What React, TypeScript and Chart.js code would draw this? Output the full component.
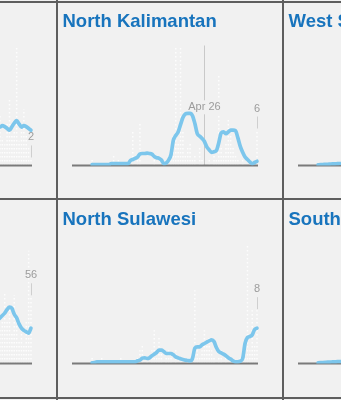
import React, { useEffect, useRef } from "react";
import { Chart, registerables } from "chart.js";

Chart.register(...registerables);

// ---------- data ----------
const MONTHS = ["Jan", "Feb", "Mar", "Apr", "May", "Jun", "Jul", "Aug", "Sep", "Oct", "Nov", "Dec"];
const START_YEAR = 2020;
const START_MONTH = 2; // March (0-based)
const START_DAY = 2;
const DAY_COUNT = 78;
const DATES: string[] = Array.from({ length: DAY_COUNT }, (_, i) => {
  const d = new Date(START_YEAR, START_MONTH, START_DAY + i);
  return `${MONTHS[d.getMonth()]} ${d.getDate()}`;
});
const NK_PEAK_DATE = "Apr 26";

const nulls = (n: number) => Array(n).fill(null);

// North Kalimantan
const NK_DAILY = [
  0, 0, 0, 0, 0, 0, 0, 0,
  1, 0, 0, 0, 0, 0, 0, 0,
  0, 2, 0, 1, 0, 0, 0, 0,
  0, 6, 0, 1, 7, 0, 0, 0,
  0, 0, 1, 0, 0, 0, 0, 0,
  2, 3, 5, 20, 4, 20, 6, 2,
  3, 4, 1, 2, 0, 3, 1, 20,
  0, 1, 0, 2, 1, 15, 3, 2,
  4, 8, 5, 3, 2, 1, 0, 1,
  0, 0, 1, 0, 0, 6,
];
const NK_AVG = [
  ...nulls(8),
  0.15, 0.15, 0.15, 0.15, 0.15, 0.15, 0.15, 0.15,
  0.3, 0.3, 0.3, 0.3, 0.3, 0.3, 0.3, 0.3,
  0.8, 1.0, 1.2, 1.4, 1.9, 2.0, 2.0, 2.05,
  2.0, 1.9, 1.5, 1.3, 1.2, 0.9, 0.3, 0.4,
  0.9, 1.8, 4.2, 5.0, 5.6, 6.8, 8.0, 8.6,
  8.7, 8.7, 8.3, 7.0, 5.3, 4.9, 4.5, 4.0,
  3.1, 2.6, 2.2, 2.3, 2.5, 3.8, 5.4, 5.6,
  5.3, 5.6, 5.9, 5.9, 5.8, 4.6, 3.2, 2.2,
  1.4, 1.0, 0.6, 0.3, 0.5, 0.7,
];
const NK_MAX = 20;

// North Sulawesi
const NS_DAILY = [
  0, 0, 0, 0, 0, 0, 0, 0,
  1, 0, 0, 0, 1, 0, 0, 0,
  0, 0, 0, 0, 1, 0, 0, 0,
  0, 0, 0, 1, 2, 3, 0, 1,
  0, 2, 5, 1, 4, 2, 0, 1,
  2, 1, 0, 2, 0, 1, 0, 0,
  1, 0, 0, 11, 2, 1, 2, 5,
  3, 4, 2, 1, 0, 1, 2, 0,
  1, 0, 1, 0, 0, 0, 1, 2,
  3, 18, 2, 8, 3, 8,
];
const NS_AVG = [
  ...nulls(8),
  0.1, 0.15, 0.25, 0.25, 0.25, 0.25, 0.25, 0.25,
  0.25, 0.25, 0.25, 0.25, 0.25, 0.25, 0.25, 0.25,
  0.25, 0.25, 0.25, 0.4, 0.5, 0.8, 0.85, 0.75,
  0.85, 1.15, 1.4, 1.65, 2.0, 2.0, 1.8, 1.5,
  1.5, 1.5, 1.3, 1.0, 0.85, 0.7, 0.6, 0.5,
  0.45, 0.4, 0.75, 2.3, 2.5, 2.5, 2.8, 3.0,
  3.2, 3.4, 3.55, 3.3, 2.4, 1.8, 1.6, 1.4,
  1.15, 0.85, 0.65, 0.4, 0.25, 0.25, 0.35, 0.75,
  3.0, 3.9, 4.05, 4.3, 5.1, 5.3,
];
const NS_MAX = 18;

// top-left panel (only its last days are in view)
const TL_DAILY = [...nulls(62), 9, 12, 14, 8, 6, 12, 19, 9, 10, 34, 7, 11, 16, 9, 5, 2];
const TL_AVG = [...nulls(62), 10.5, 10.8, 10.9, 11.3, 11.0, 10.5, 10.0, 11.0, 12.0, 12.7, 11.8, 10.9, 11.3, 11.0, 10.5, 10.0];
const TL_MAX = 34;

// bottom-left panel (only its last days are in view)
const BL_DAILY = [...nulls(62), 30, 40, 28, 35, 58, 35, 45, 25, 57, 40, 20, 30, 15, 35, 94, 56];
const BL_AVG = [...nulls(62), 34, 36, 38, 40, 42, 45, 47, 46, 41, 38, 33, 29.5, 27.6, 26.4, 25.3, 29.5];
const BL_MAX = 100;

// top-right panel (only its first days are in view)
const TR_DAILY = [0, 0, 0, 0, 0, 0, 0, 0, 1, 0, 0, 1, 0, 0, 2, 0, 1, 0, 1, 0, 2, ...nulls(57)];
const TR_AVG = [...nulls(8), 0.3, 0.5, 0.5, 0.6, 0.6, 0.7, 0.8, 0.8, 0.9, 1.0, 1.0, 1.1, 1.2, ...nulls(57)];
const TR_MAX = 60;

// bottom-right panel (only its first days are in view)
const BR_DAILY = [0, 0, 0, 0, 0, 0, 0, 0, 1, 0, 1, 0, 0, 1, 0, 2, 0, 1, 0, 0, 1, ...nulls(57)];
const BR_AVG = [...nulls(8), 0.3, 0.4, 0.5, 0.6, 0.7, 0.7, 0.8, 0.8, 0.9, 0.9, 1.0, 1.0, 1.1, ...nulls(57)];
const BR_MAX = 60;

// ---------- styling ----------
const BG = "#f1f1f1";
const TITLE_COLOR = "#1874bd";
const LINE_COLOR = "#7cc6ec";
const BASE_COLOR = "#7a7a7a";
const LABEL_COLOR = "#9c9c9c";
const BORDER_COLOR = "#5e5e5e";
const FONT = '"Liberation Sans", Arial, Helvetica, sans-serif';

const PANEL_W = 226;
const PANEL_H = 198;

type PanelSpec = {
  title: string;
  daily: (number | null)[];
  avg: (number | null)[];
  max: number;
  peakLabel: string | null;
  showLast: boolean;
  left: number;
  top: number;
};

const decorPlugin = {
  id: "panelDecor",
  beforeDatasetsDraw(chart: any, _args: any, opts: any) {
    const ctx = chart.ctx as CanvasRenderingContext2D;
    const y = chart.scales.y;
    const area = chart.chartArea;
    const meta = chart.getDatasetMeta(0);
    const daily = chart.data.datasets[0].data as (number | null)[];
    const avg = chart.data.datasets[1].data as (number | null)[];
    const base = y.getPixelForValue(0);
    const peakIndex = opts.peakLabel ? DATES.indexOf(opts.peakLabel) : -1;

    ctx.save();
    // title
    ctx.font = `bold 18.5px ${FONT}`;
    ctx.fillStyle = TITLE_COLOR;
    ctx.textAlign = "left";
    ctx.textBaseline = "alphabetic";
    if (opts.title) ctx.fillText(opts.title, 5.5, 25);

    // dotted daily bars
    ctx.strokeStyle = "rgba(255,255,255,0.85)";
    ctx.lineWidth = 1.5;
    ctx.setLineDash([1.5, 2.5]);
    meta.data.forEach((el: any, i: number) => {
      const v = daily[i];
      if (v == null || v <= 0 || i === peakIndex) return;
      ctx.beginPath();
      ctx.moveTo(el.x, base);
      ctx.lineTo(el.x, el.y);
      ctx.stroke();
    });
    ctx.setLineDash([]);

    // peak day marker
    if (peakIndex >= 0) {
      const el = meta.data[peakIndex];
      const px = Math.round(el.x) + 0.5;
      ctx.strokeStyle = "#c9c9c9";
      ctx.lineWidth = 1;
      ctx.beginPath();
      ctx.moveTo(px, el.y);
      ctx.lineTo(px, base);
      ctx.stroke();
      let maxAvg = 0;
      avg.forEach((v) => {
        if (v != null && v > maxAvg) maxAvg = v;
      });
      const ly = y.getPixelForValue(maxAvg) - 3;
      ctx.font = `11px ${FONT}`;
      const w = ctx.measureText(opts.peakLabel).width;
      ctx.fillStyle = BG;
      ctx.fillRect(el.x - w / 2 - 1, ly - 10, w + 2, 14);
      ctx.fillStyle = LABEL_COLOR;
      ctx.textAlign = "center";
      ctx.fillText(opts.peakLabel, el.x, ly);
    }

    // baseline
    ctx.strokeStyle = BASE_COLOR;
    ctx.lineWidth = 2;
    ctx.beginPath();
    ctx.moveTo(area.left - 1, base);
    ctx.lineTo(area.right + 1, base);
    ctx.stroke();
    ctx.restore();
  },
  afterDatasetsDraw(chart: any, _args: any, opts: any) {
    if (!opts.showLast) return;
    const ctx = chart.ctx as CanvasRenderingContext2D;
    const meta = chart.getDatasetMeta(0);
    const daily = chart.data.datasets[0].data as (number | null)[];
    const last = daily.length - 1;
    const v = daily[last];
    if (v == null) return;
    const el = meta.data[last];
    const top = el.y;
    ctx.save();
    const lx = Math.round(el.x) + 0.5;
    ctx.strokeStyle = "#cfcfcf";
    ctx.lineWidth = 1;
    ctx.beginPath();
    ctx.moveTo(lx, top - 13);
    ctx.lineTo(lx, top - 1);
    ctx.stroke();
    ctx.font = `11px ${FONT}`;
    ctx.fillStyle = LABEL_COLOR;
    ctx.textAlign = "center";
    ctx.textBaseline = "alphabetic";
    ctx.fillText(String(v), el.x, top - 18);
    ctx.restore();
  },
};

function Panel({ spec }: { spec: PanelSpec }) {
  const ref = useRef<HTMLCanvasElement | null>(null);
  useEffect(() => {
    if (!ref.current) return;
    const chart = new Chart(ref.current, {
      type: "bar",
      data: {
        labels: DATES,
        datasets: [
          {
            type: "bar",
            data: spec.daily,
            backgroundColor: "rgba(0,0,0,0)",
            borderWidth: 0,
          } as any,
          {
            type: "line",
            data: spec.avg,
            borderColor: LINE_COLOR,
            borderWidth: 3.7,
            pointRadius: 0,
            tension: 0.4,
            cubicInterpolationMode: "monotone",
            fill: false,
            spanGaps: false,
            borderCapStyle: "round",
            borderJoinStyle: "round",
          } as any,
        ],
      },
      options: {
        responsive: false,
        maintainAspectRatio: false,
        animation: false,
        events: [],
        layout: { padding: { left: 16, right: 26, top: 43.5, bottom: 34.5 } },
        plugins: {
          legend: { display: false },
          tooltip: { enabled: false },
          title: { display: false },
          panelDecor: {
            title: spec.title,
            peakLabel: spec.peakLabel,
            showLast: spec.showLast,
          },
        } as any,
        scales: {
          x: { display: false, offset: false },
          y: { display: false, min: 0, max: spec.max },
        },
      },
      plugins: [decorPlugin],
    });
    return () => chart.destroy();
  }, [spec]);
  return (
    <canvas
      ref={ref}
      width={PANEL_W}
      height={PANEL_H}
      style={{ position: "absolute", left: spec.left, top: spec.top, width: PANEL_W, height: PANEL_H }}
    />
  );
}

const COL_X = [57.3 - PANEL_W, 57.3, 283.3];
const ROW_Y = [1.5, 199.5];

const PANELS: PanelSpec[] = [
  { title: "", daily: TL_DAILY, avg: TL_AVG, max: TL_MAX, peakLabel: null, showLast: true, left: COL_X[0], top: ROW_Y[0] },
  { title: "North Kalimantan", daily: NK_DAILY, avg: NK_AVG, max: NK_MAX, peakLabel: NK_PEAK_DATE, showLast: true, left: COL_X[1], top: ROW_Y[0] },
  { title: "West Sumatra", daily: TR_DAILY, avg: TR_AVG, max: TR_MAX, peakLabel: null, showLast: false, left: COL_X[2], top: ROW_Y[0] },
  { title: "", daily: BL_DAILY, avg: BL_AVG, max: BL_MAX, peakLabel: null, showLast: true, left: COL_X[0], top: ROW_Y[1] },
  { title: "North Sulawesi", daily: NS_DAILY, avg: NS_AVG, max: NS_MAX, peakLabel: null, showLast: true, left: COL_X[1], top: ROW_Y[1] },
  { title: "South Sulawesi", daily: BR_DAILY, avg: BR_AVG, max: BR_MAX, peakLabel: null, showLast: false, left: COL_X[2], top: ROW_Y[1] },
];

export default function App() {
  const line = (style: React.CSSProperties) => (
    <div style={{ position: "absolute", background: BORDER_COLOR, ...style }} />
  );
  return (
    <div
      style={{
        position: "fixed",
        left: 0,
        top: 0,
        width: 341,
        height: 400,
        overflow: "hidden",
        background: BG,
      }}
    >
      {PANELS.map((p, i) => (
        <Panel key={i} spec={p} />
      ))}
      {line({ left: 56, top: 0, width: 2, height: 400 })}
      {line({ left: 282, top: 0, width: 2, height: 400 })}
      {line({ left: 0, top: 1, width: 341, height: 2 })}
      {line({ left: 0, top: 198, width: 341, height: 2 })}
      {line({ left: 0, top: 397, width: 341, height: 2 })}
    </div>
  );
}
